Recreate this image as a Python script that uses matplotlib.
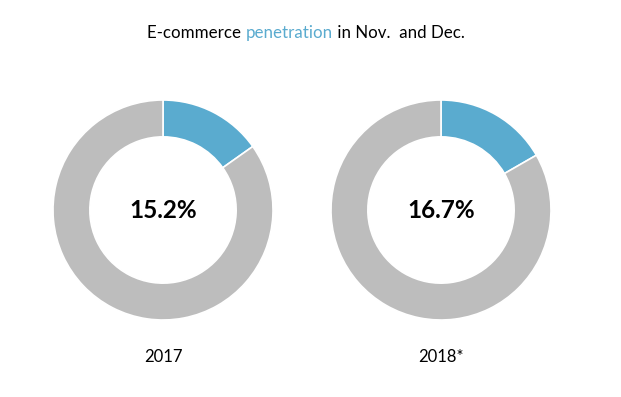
import matplotlib.pyplot as plt

plt.rcParams['font.family'] = ['Lato', 'DejaVu Sans']

years = ['2017', '2018*']
shares = [15.2, 16.7]

BLUE = '#5aabcf'
GRAY = '#bdbdbd'


def main():
    fig = plt.figure(figsize=(6.21, 3.97), dpi=100)

    # title with the coloured word, pieces laid out side by side
    parts = [('E-commerce ', '#000000'), ('penetration', BLUE), (' in Nov.  and Dec.', '#000000')]
    fig.canvas.draw()
    r = fig.canvas.get_renderer()
    texts = [fig.text(0, 0.918, s, fontsize=12.2, color=c, ha='left', va='center') for s, c in parts]
    widths = [tt.get_window_extent(r).width for tt in texts]
    x = 306 - sum(widths) / 2
    for tt, w in zip(texts, widths):
        tt.set_x(x / fig.bbox.width)
        x += w

    centers = [163, 441]
    rad = 110
    for cx, year, share in zip(centers, years, shares):
        ax = fig.add_axes([(cx - rad) / 621, (397 - 210 - rad) / 397, 2 * rad / 621, 2 * rad / 397])
        ax.pie([share, 100 - share], colors=[BLUE, GRAY], startangle=90, counterclock=False,
               radius=1, wedgeprops=dict(width=0.335, edgecolor='white', linewidth=1.2))
        ax.set_xlim(-1, 1)
        ax.set_ylim(-1, 1)
        ax.set_aspect('equal')
        ax.text(0, 0, '{:.1f}%'.format(share), ha='center', va='center', fontsize=17.5,
                fontweight='bold', color='#000000')
        fig.text(cx / 621, 1 - 357 / 397, year, ha='center', va='center', fontsize=12,
                 color='#000000')

    fig.savefig('out.png', dpi=100)


if __name__ == '__main__':
    main()
